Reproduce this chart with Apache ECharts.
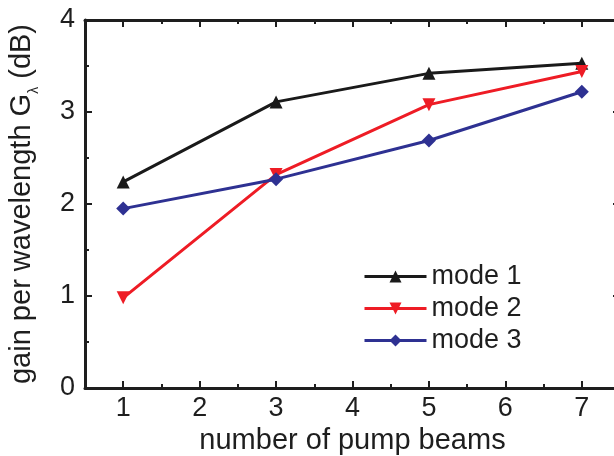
<!DOCTYPE html>
<html>
<head>
<meta charset="utf-8">
<script src="https://cdn.jsdelivr.net/npm/echarts@6/dist/echarts.min.js"></script>
<style>
  body { margin: 0; background: #fff; }
  #chart { width: 614px; height: 456px; }
</style>
</head>
<body>
<div id="chart"></div>
<script>
// data
var pumpBeams = [1, 3, 5, 7];
var mode1 = [2.24, 3.11, 3.42, 3.53];
var mode2 = [0.98, 2.32, 3.08, 3.44];
var mode3 = [1.95, 2.27, 2.69, 3.22];
var xMajor = [1, 2, 3, 4, 5, 6, 7];
var xMinor = [1.5, 2.5, 3.5, 4.5, 5.5, 6.5];
var yMajor = [0, 1, 2, 3, 4];
var yMinor = [0.5, 1.5, 2.5, 3.5];

var font = "Liberation Sans";
var ink = "#1e1e1e";

function pairs(ys) {
  return pumpBeams.map(function (x, i) { return [x, ys[i]]; });
}

// builds one axis; extra overlapping axes carry the short minor ticks
function axis(pos, ticks, len, main) {
  return {
    type: "value",
    position: pos,
    min: pos == "top" || pos == "bottom" ? 0.5 : 0,
    max: pos == "top" || pos == "bottom" ? 7.5 : 4,
    axisLine: { show: main, onZero: false, lineStyle: { color: ink, width: 3 } },
    axisTick: { show: true, inside: true, length: len, customValues: ticks, lineStyle: { color: ink, width: 2 } },
    axisLabel: { show: false },
    splitLine: { show: false }
  };
}

var xBottom = axis("bottom", xMajor, 7, true);
xBottom.axisLabel = { show: true, customValues: xMajor, margin: 7, fontSize: 27, fontFamily: font, color: ink };
xBottom.name = "number of pump beams";
xBottom.nameLocation = "middle";
xBottom.nameGap = 38;
xBottom.nameTextStyle = { fontSize: 29, fontFamily: font, color: ink };

var yLeft = axis("left", yMajor, 7, true);
yLeft.axisLabel = { show: true, customValues: yMajor, margin: 10, fontSize: 27, fontFamily: font, color: ink };
yLeft.name = "{a|gain per wavelength G}{s|λ}{a| (dB)}";
yLeft.nameLocation = "middle";
yLeft.nameGap = 44;
yLeft.nameTextStyle = {
  fontFamily: font, color: ink,
  rich: {
    a: { fontSize: 29, fontFamily: font, color: ink, lineHeight: 34, verticalAlign: "top" },
    s: { fontSize: 14, fontFamily: font, color: ink, lineHeight: 34, verticalAlign: "bottom", padding: [10, 0, 0, 0] }
  }
};

var chart = echarts.init(document.getElementById("chart"));
chart.setOption({
  animation: false,
  grid: { left: 85, top: 20, right: -6, bottom: 68, containLabel: false, outerBoundsMode: "none" },
  legend: {
    orient: "vertical",
    left: 358,
    top: 258,
    itemWidth: 62,
    itemHeight: 15,
    itemGap: 5,
    itemTextGap: 12,
    lineStyle: { width: 3 },
    textStyle: { fontSize: 27, fontFamily: font, color: ink, lineHeight: 24 },
    data: ["mode 1", "mode 2", "mode 3"]
  },
  xAxis: [xBottom, axis("top", xMajor, 7, true), axis("bottom", xMinor, 4, false), axis("top", xMinor, 4, false)],
  yAxis: [yLeft, axis("right", yMajor, 7, true), axis("left", yMinor, 4, false), axis("right", yMinor, 4, false)],
  series: [
    {
      name: "mode 1", type: "line", data: pairs(mode1),
      symbol: "triangle", symbolSize: 13,
      lineStyle: { color: "#1a1a1a", width: 3 }, itemStyle: { color: "#1a1a1a" }
    },
    {
      name: "mode 2", type: "line", data: pairs(mode2),
      symbol: "triangle", symbolRotate: 180, symbolSize: 13,
      lineStyle: { color: "#ee1c25", width: 3 }, itemStyle: { color: "#ee1c25" }
    },
    {
      name: "mode 3", type: "line", data: pairs(mode3),
      symbol: "diamond", symbolSize: 14,
      lineStyle: { color: "#2e3192", width: 3 }, itemStyle: { color: "#2e3192" }
    }
  ]
});
</script>
</body>
</html>
